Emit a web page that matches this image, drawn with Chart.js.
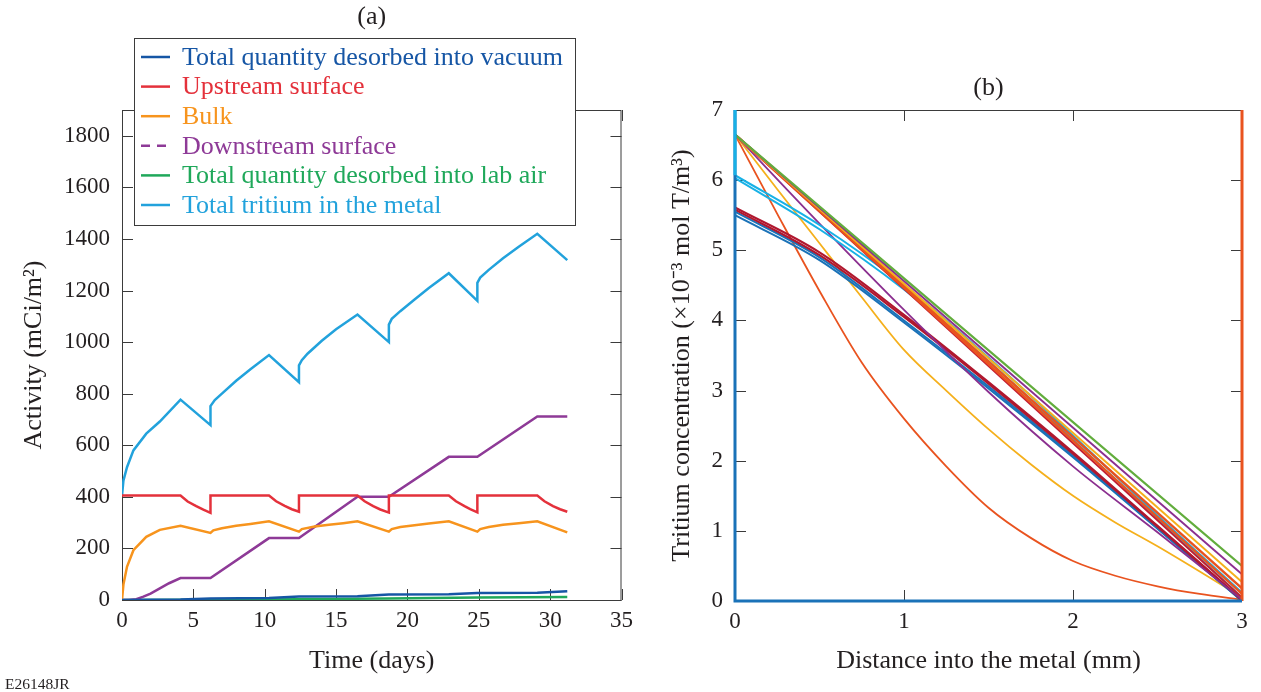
<!DOCTYPE html>
<html>
<head>
<meta charset="utf-8">
<script src="https://cdn.jsdelivr.net/npm/chart.js@4.4.0/dist/chart.umd.min.js"></script>
<style>
  body { margin: 0; background: #fff; }
  #chartA { position: absolute; left: 0; top: 0; }
  #chartB { position: absolute; left: 640px; top: 0; }
</style>
</head>
<body>
<canvas id="chartA" width="640" height="692"></canvas>
<canvas id="chartB" width="621" height="692"></canvas>
<script>
// ---- (a) activity vs time ----
var tVacuum = [0, 4.1, 6.2, 10.3, 12.4, 16.5, 18.7, 22.9, 24.9, 29.1, 31.2];
var vacuum  = [0, 2, 6, 8, 14, 15, 21, 22, 27, 28, 34];

var tUpstream = [0, 4.1, 4.6, 5.2, 5.7, 6.2, 6.2, 10.3, 10.8, 11.4, 11.9, 12.4, 12.4, 16.5, 17.0, 17.6, 18.1, 18.7, 18.7,
                 22.9, 23.4, 24.0, 24.4, 24.9, 24.9, 29.1, 29.6, 30.2, 30.7, 31.2];
var upstream  = [405, 405, 382, 364, 350, 338, 405, 405, 383, 365, 352, 342, 405, 405, 383, 364, 351, 339, 405,
                 405, 383, 364, 352, 340, 405, 405, 383, 364, 352, 342];

var tBulk = [0, 0.1, 0.35, 0.8, 1.7, 2.65, 4.1, 6.2, 6.4, 7, 8, 9, 10.3, 12.4, 12.6, 13.5, 14.5, 15.5, 16.5,
             18.7, 18.9, 19.5, 20.5, 21.5, 22.9, 24.9, 25.1, 25.7, 26.7, 27.8, 29.1, 31.2];
var bulk  = [0, 60, 129, 193, 245, 272, 288, 260, 270, 278, 288, 295, 305, 265, 275, 285, 292, 298, 305,
             265, 275, 283, 290, 297, 305, 265, 275, 283, 292, 298, 305, 262];

var tDownstream = [0, 0.5, 1, 1.5, 2, 2.65, 3.3, 4.1, 6.2, 10.3, 12.4, 16.5, 18.7, 22.9, 24.9, 29.1, 31.2];
var downstream  = [0, 0, 3, 13, 25, 45, 65, 85, 85, 240, 240, 400, 400, 555, 555, 712, 712];

var tLabAir = [0, 6.2, 12.4, 18.7, 24.9, 31.2];
var labAir  = [0, 1, 3, 6, 10, 12];

var tMetal = [0, 0.1, 0.35, 0.8, 1.7, 2.65, 4.1, 6.2, 6.2, 6.5, 7, 8, 9, 10.3, 12.4, 12.4, 12.6, 13, 14, 15, 16.5,
              18.7, 18.7, 18.9, 19.5, 20.5, 21.5, 22.9, 24.9, 24.9, 25.1, 25.7, 26.7, 27.8, 29.1, 31.2];
var metal  = [405, 463, 515, 580, 645, 692, 777, 678, 752, 775, 800, 850, 895, 950, 845, 910, 930, 955, 1005, 1050, 1107,
              1000, 1068, 1090, 1120, 1165, 1210, 1267, 1160, 1230, 1250, 1280, 1325, 1370, 1420, 1318];

// ---- (b) concentration profiles ----
var distEnds   = [0, 3];
var distCoarse = [0, 0.5, 1, 1.5, 2, 2.5, 3];
var distFine   = [0, 0.25, 0.5, 0.75, 1, 1.25, 1.5, 1.75, 2, 2.25, 2.5, 2.75, 3];

var edgeLeftX = [0, 0, 3],  edgeLeftY = [7, 0, 0];
var edgeRightX = [3, 3],    edgeRightY = [0, 7];
var edgeCyanX = [0, 0],     edgeCyanY = [7, 6.07];

var profOrange  = [6.65, 5.52, 4.42, 3.4, 2.6, 1.92, 1.33, 0.9, 0.57, 0.36, 0.21, 0.1, 0.02];
var profYellow  = [6.65, 5.87, 5.1, 4.33, 3.58, 3.0, 2.45, 1.95, 1.5, 1.12, 0.78, 0.42, 0.05];
var profPurple  = [6.65, 5.38, 4.15, 2.98, 1.92, 0.98, 0.02];
var profCyan1   = [6.07, 5.36, 4.5, 3.47, 2.36, 1.22, 0.12];
var profCyan2   = [6.03, 5.3, 4.44, 3.42, 2.3, 1.17, 0.05];
var profDkRed1  = [5.61, 4.97, 4.08, 3.12, 2.12, 1.07, 0.02];
var profDkRed2  = [5.58, 4.93, 4.05, 3.1, 2.1, 1.06, 0.01];
var profBlue1   = [5.55, 4.9, 4.0, 3.06, 2.07, 1.04, 0.0];
var profBlue2   = [5.5, 4.86, 3.97, 3.03, 2.05, 1.03, 0.0];
var lineDkRed   = [6.65, 0.05];
var lineOrange1 = [6.65, 0.1];
var lineOrange2 = [6.65, 0.18];
var lineYellow  = [6.65, 0.27];
var linePurple  = [6.65, 0.38];
var lineGreen   = [6.65, 0.5];

function pts(xs, ys) {
    return xs.map(function (x, i) { return { x: x, y: ys[i] }; });
}

Chart.defaults.font.family = '"Liberation Serif", "Times New Roman", serif';
Chart.defaults.color = '#231f20';

// box + inward ticks on all four sides
var frameTicks = {
    id: 'frameTicks',
    beforeDatasetsDraw: function (chart) {
        var ctx = chart.ctx, a = chart.chartArea;
        var xs = chart.scales.x, ys = chart.scales.y;
        ctx.save();
        ctx.strokeStyle = '#3b3b3b';
        ctx.lineWidth = 1;
        ctx.strokeRect(a.left + 0.5, a.top + 0.5, a.right - a.left - 1, a.bottom - a.top);
        ctx.beginPath();
        xs.ticks.forEach(function (t) {
            var px = Math.round(xs.getPixelForValue(t.value)) + 0.5;
            ctx.moveTo(px, a.bottom); ctx.lineTo(px, a.bottom - 11);
            ctx.moveTo(px, a.top); ctx.lineTo(px, a.top + 11);
        });
        ys.ticks.forEach(function (t) {
            var py = Math.round(ys.getPixelForValue(t.value)) + 0.5;
            ctx.moveTo(a.left, py); ctx.lineTo(a.left + 11, py);
            ctx.moveTo(a.right, py); ctx.lineTo(a.right - 11, py);
        });
        ctx.stroke();
        ctx.restore();
    }
};

var panelText = {
    id: 'panelText',
    afterDraw: function (chart, args, opts) {
        var ctx = chart.ctx, a = chart.chartArea;
        ctx.save();
        ctx.fillStyle = '#231f20';
        ctx.textAlign = 'center';
        ctx.textBaseline = 'middle';
        ctx.font = '26px "Liberation Serif"';
        ctx.fillText(opts.label, (a.left + a.right) / 2, opts.labelY);
        if (opts.code) {
            ctx.textAlign = 'left';
            ctx.font = '15.5px "Liberation Serif"';
            ctx.fillText(opts.code, 5, 685);
        }
        ctx.restore();
    }
};

// legend box that sits over the top of the plot
var boxLegend = {
    id: 'boxLegend',
    afterDraw: function (chart) {
        var ctx = chart.ctx, a = chart.chartArea;
        var sets = chart.data.datasets;
        var left = a.left + 12, top = 38, rowH = 29.6;
        ctx.save();
        ctx.font = '26px "Liberation Serif"';
        var w = 0;
        sets.forEach(function (d) { w = Math.max(w, ctx.measureText(d.label).width); });
        var boxW = Math.round(48 + w + 12), boxH = Math.round(19 + rowH * (sets.length - 1) + 20);
        ctx.fillStyle = '#fff';
        ctx.fillRect(left, top, boxW, boxH);
        ctx.strokeStyle = '#3b3b3b';
        ctx.lineWidth = 1;
        ctx.strokeRect(left + 0.5, top + 0.5, boxW, boxH);
        ctx.textBaseline = 'middle';
        sets.forEach(function (d, i) {
            var cy = top + 19 + i * rowH;
            ctx.strokeStyle = d.borderColor;
            ctx.lineWidth = 2.5;
            ctx.setLineDash(d.legendDash || []);
            ctx.beginPath();
            ctx.moveTo(left + 7, cy); ctx.lineTo(left + 36, cy);
            ctx.stroke();
            ctx.setLineDash([]);
            ctx.fillStyle = d.borderColor;
            ctx.fillText(d.label, left + 48, cy + 1);
        });
        ctx.restore();
    }
};

function axisCommon(min, max, step, fixSize, isY) {
    return {
        type: 'linear', min: min, max: max,
        ticks: {
            stepSize: step, autoSkip: false, includeBounds: false,
            padding: isY ? 12 : 7, font: { size: 23 }, color: '#231f20',
            callback: function (v) { return String(v); }
        },
        grid: { display: false, drawTicks: false },
        border: { display: false },
        afterFit: function (s) { if (isY) { s.width = fixSize; } else { s.height = fixSize; } }
    };
}

var xA = axisCommon(0, 35, 5, 92, false);
xA.title = { display: true, text: 'Time (days)', font: { size: 26 }, padding: { top: 0, bottom: 15 } };
var yA = axisCommon(0, 1900, 200, 122, true);
yA.title = { display: true, text: 'Activity (mCi/m²)', font: { size: 26 }, padding: { top: 19, bottom: 0 } };

var chartA = new Chart(document.getElementById('chartA'), {
    type: 'line',
    data: {
        datasets: [
            { label: 'Total quantity desorbed into vacuum', data: pts(tVacuum, vacuum), borderColor: '#1656a5' },
            { label: 'Upstream surface', data: pts(tUpstream, upstream), borderColor: '#e4313b' },
            { label: 'Bulk', data: pts(tBulk, bulk), borderColor: '#f7941d' },
            { label: 'Downstream surface', data: pts(tDownstream, downstream), borderColor: '#8e3a97', legendDash: [9, 7] },
            { label: 'Total quantity desorbed into lab air', data: pts(tLabAir, labAir), borderColor: '#1fa85a' },
            { label: 'Total tritium in the metal', data: pts(tMetal, metal), borderColor: '#22a2dc' }
        ]
    },
    options: {
        responsive: false,
        animation: false,
        layout: { padding: { top: 110, right: 12, left: 0, bottom: 0 } },
        elements: { point: { radius: 0 }, line: { borderWidth: 2.5, tension: 0 } },
        plugins: {
            legend: { display: false },
            tooltip: { enabled: false },
            panelText: { label: '(a)', labelY: 17, code: 'E26148JR' }
        },
        scales: { x: xA, y: yA }
    },
    plugins: [frameTicks, boxLegend, panelText]
});

var xB = axisCommon(0, 3, 1, 91, false);
xB.title = { display: true, text: 'Distance into the metal (mm)', font: { size: 26 }, padding: { top: 0, bottom: 15 } };
var yB = axisCommon(0, 7, 1, 95, true);
yB.title = { display: true, text: 'Tritium concentration (×10⁻³ mol T/m³)', font: { size: 26 }, padding: { top: 27, bottom: 0 } };

function prof(xs, ys, color, width, noClip) {
    var d = { data: pts(xs, ys), borderColor: color, borderWidth: width || 1.8, cubicInterpolationMode: 'monotone' };
    if (noClip) { d.clip = false; }
    return d;
}

var chartB = new Chart(document.getElementById('chartB'), {
    type: 'line',
    data: {
        datasets: [
            prof(edgeCyanX, edgeCyanY, '#17b1e6', 3, true),
            prof(edgeLeftX, edgeLeftY, '#1a72b8', 3, true),
            prof(edgeRightX, edgeRightY, '#e9531f', 3, true),
            prof(distEnds, lineGreen, '#62ad3d', 2.2),
            prof(distEnds, linePurple, '#8b2f8f', 2),
            prof(distEnds, lineYellow, '#f5b01c', 2),
            prof(distEnds, lineOrange2, '#e9531f', 2.4),
            prof(distEnds, lineOrange1, '#e9531f', 2.4),
            prof(distEnds, lineDkRed, '#c41e32', 2),
            prof(distCoarse, profCyan1, '#17b1e6', 2),
            prof(distCoarse, profCyan2, '#17b1e6', 2),
            prof(distCoarse, profPurple, '#8b2f8f', 1.8),
            prof(distCoarse, profDkRed1, '#b0182f', 2.2),
            prof(distCoarse, profDkRed2, '#b0182f', 2.2),
            prof(distCoarse, profBlue1, '#1a72b8', 2),
            prof(distCoarse, profBlue2, '#1a72b8', 2),
            prof(distFine, profYellow, '#f5b01c', 1.8),
            prof(distFine, profOrange, '#e9531f', 1.8)
        ]
    },
    options: {
        responsive: false,
        animation: false,
        layout: { padding: { top: 110, right: 19, left: 0, bottom: 0 } },
        elements: { point: { radius: 0 } },
        plugins: {
            legend: { display: false },
            tooltip: { enabled: false },
            panelText: { label: '(b)', labelY: 88 }
        },
        scales: { x: xB, y: yB }
    },
    plugins: [frameTicks, panelText]
});
</script>
</body>
</html>
